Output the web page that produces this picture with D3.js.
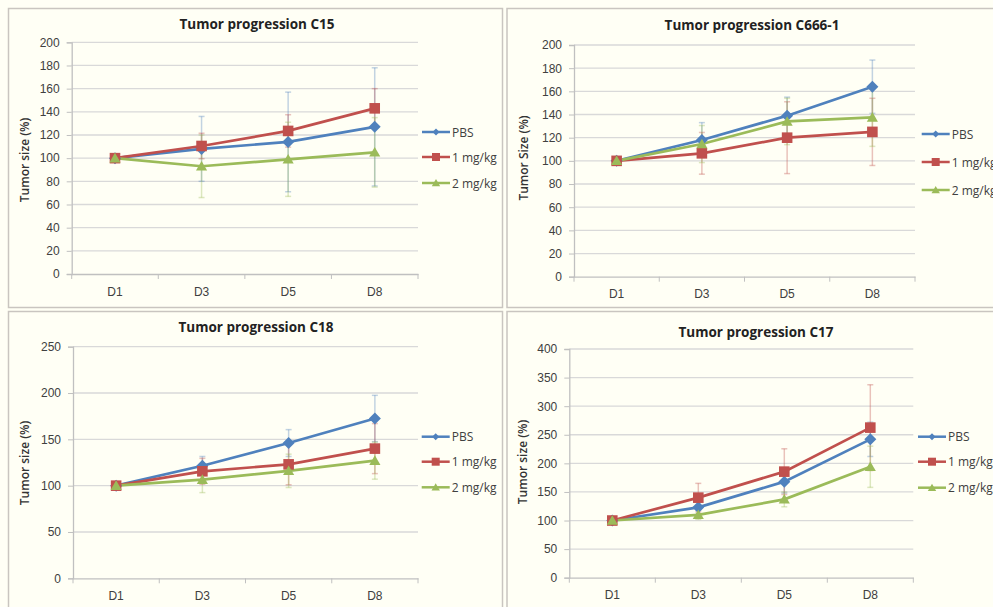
<!DOCTYPE html>
<html>
<head>
<meta charset="utf-8">
<script src="https://cdn.jsdelivr.net/npm/d3@7"></script>
<style>
  html, body { margin: 0; padding: 0; background: #fffff5; }
  svg { display: block; font-family: "Open Sans", "Noto Sans", sans-serif; }
</style>
</head>
<body>
<svg width="993" height="607"></svg>
<script>
const categories = ["D1", "D3", "D5", "D8"];
const seriesNames = ["PBS", "1 mg/kg", "2 mg/kg"];
const seriesColors = ["#4f81bd", "#c0504d", "#9bbb59"];

// mean values per series (PBS, 1 mg/kg, 2 mg/kg) and +/- error
const c15Values = [[100, 108, 114, 127], [100, 110.5, 123.5, 143], [100, 93, 99, 105]];
const c15Errors = [[0, 28, 43, 51], [0, 11, 14, 17], [0, 27, 32, 30]];

const c666Values = [[100, 118, 139, 164], [100, 106.5, 120, 125], [100, 114.5, 134, 137.5]];
const c666Errors = [[0, 15, 16, 23], [0, 18, 31, 29], [0, 16, 20, 25]];

const c18Values = [[100, 121.5, 146, 172.5], [100, 115.5, 123, 140], [100, 106.5, 116, 127]];
const c18Errors = [[0, 10, 14.5, 25], [0, 14, 22, 27], [0, 14, 18, 20]];

const c17Values = [[100, 123, 168, 242], [100, 140, 185.5, 262.5], [100, 110, 137, 194]];
const c17Errors = [[0, 12, 20, 30], [0, 25, 40, 75], [0, 8, 13, 36]];

const panels = [
  { title: "Tumor progression C15", yTitle: "Tumor size (%)", values: c15Values, errors: c15Errors,
    yMax: 200, yStep: 20,
    frame: [8.5, 8.5, 494, 299], plot: [71.7, 418, 42.3, 274],
    titlePos: [257, 24], yTitlePos: [24, 160], legendX: 422, legendY: [132, 157, 183] },
  { title: "Tumor progression C666-1", yTitle: "Tumor Size (%)", values: c666Values, errors: c666Errors,
    yMax: 200, yStep: 20,
    frame: [507, 8.5, 500, 299], plot: [574, 915, 45, 276.7],
    titlePos: [752, 25], yTitlePos: [523, 158], legendX: 921.7, legendY: [134, 162, 190] },
  { title: "Tumor progression C18", yTitle: "Tumor size (%)", values: c18Values, errors: c18Errors,
    yMax: 250, yStep: 50,
    frame: [8.5, 311.5, 494, 310], plot: [73, 418, 346.7, 578.3],
    titlePos: [256, 327], yTitlePos: [24, 463], legendX: 421.7, legendY: [436.7, 461.7, 487.3] },
  { title: "Tumor progression C17", yTitle: "Tumor size (%)", values: c17Values, errors: c17Errors,
    yMax: 400, yStep: 50,
    frame: [507, 311.5, 500, 310], plot: [569.3, 913.3, 349, 577.7],
    titlePos: [756, 332], yTitlePos: [522, 462], legendX: 918, legendY: [436.7, 461.7, 487.7] }
];

const svg = d3.select("svg");

function marker(g, type, size, color) {
    if (type === 0) {
        g.append("path").attr("d", `M0,${-size}L${size},0L0,${size}L${-size},0Z`).attr("fill", color);
    } else if (type === 1) {
        g.append("rect").attr("x", -size).attr("y", -size).attr("width", size * 2).attr("height", size * 2).attr("fill", color);
    } else {
        g.append("path").attr("d", `M0,${-size}L${size * 1.05},${size * 0.8}L${-size * 1.05},${size * 0.8}Z`).attr("fill", color);
    }
}

function drawPanel(p) {
    const [fx, fy, fw, fh] = p.frame;
    svg.append("rect")
        .attr("x", fx).attr("y", fy).attr("width", fw).attr("height", fh)
        .attr("fill", "#fffff5").attr("stroke", "#c9c5c0").attr("stroke-width", 1.5);

    const [left, right, top, bottom] = p.plot;
    const x = d3.scaleBand().domain(categories).range([left, right]);
    const y = d3.scaleLinear().domain([0, p.yMax]).range([bottom, top]);
    const ticks = d3.range(0, p.yMax + 1, p.yStep);

    const g = svg.append("g");

    // gridlines
    g.selectAll(".grid").data(ticks.slice(1)).join("line")
        .attr("x1", left).attr("x2", right)
        .attr("y1", d => y(d)).attr("y2", d => y(d))
        .attr("stroke", "#d9d9d9").attr("stroke-width", 1.3);

    const yAxis = g.append("g").attr("transform", `translate(${left},0)`)
        .call(d3.axisLeft(y).tickValues(ticks).tickSize(5).tickPadding(7));
    yAxis.select(".domain").attr("stroke", "#c0c0c0").attr("stroke-width", 1.3);
    yAxis.selectAll(".tick line").attr("stroke", "#c0c0c0");
    yAxis.selectAll("text").attr("font-size", 12).attr("fill", "#404040");

    const xAxis = g.append("g").attr("transform", `translate(0,${bottom})`)
        .call(d3.axisBottom(x).tickSize(0).tickPadding(13));
    xAxis.select(".domain").attr("stroke", "#c0c0c0").attr("stroke-width", 1.3);
    xAxis.selectAll("text").attr("font-size", 12).attr("fill", "#404040");
    // category boundary ticks
    g.selectAll(".xtick").data(d3.range(categories.length + 1)).join("line")
        .attr("x1", i => left + i * x.step()).attr("x2", i => left + i * x.step())
        .attr("y1", bottom).attr("y2", bottom + 5)
        .attr("stroke", "#c0c0c0");

    const cx = c => x(c) + x.bandwidth() / 2;

    // error bars
    p.values.forEach((vals, s) => {
        const eg = g.append("g").attr("stroke", seriesColors[s]).attr("stroke-opacity", 0.35).attr("stroke-width", 1.5);
        vals.forEach((v, i) => {
            const e = p.errors[s][i];
            if (!e) return;
            const xc = cx(categories[i]);
            eg.append("line").attr("x1", xc).attr("x2", xc).attr("y1", y(v - e)).attr("y2", y(v + e));
            eg.append("line").attr("x1", xc - 3).attr("x2", xc + 3).attr("y1", y(v + e)).attr("y2", y(v + e));
            eg.append("line").attr("x1", xc - 3).attr("x2", xc + 3).attr("y1", y(v - e)).attr("y2", y(v - e));
        });
    });

    // lines and markers
    const line = d3.line().x((d, i) => cx(categories[i])).y(d => y(d));
    p.values.forEach((vals, s) => {
        g.append("path").datum(vals)
            .attr("d", line).attr("fill", "none")
            .attr("stroke", seriesColors[s]).attr("stroke-width", 2.7);
    });
    p.values.forEach((vals, s) => {
        vals.forEach((v, i) => {
            const mg = g.append("g").attr("transform", `translate(${cx(categories[i])},${y(v)})`);
            marker(mg, s, s === 0 ? 6 : 5.3, seriesColors[s]);
        });
    });

    // titles
    svg.append("text")
        .attr("x", p.titlePos[0]).attr("y", p.titlePos[1])
        .attr("text-anchor", "middle").attr("dominant-baseline", "central")
        .attr("font-size", 13.5).attr("font-weight", "bold").attr("fill", "#222")
        .text(p.title);
    svg.append("text")
        .attr("transform", `translate(${p.yTitlePos[0]},${p.yTitlePos[1]}) rotate(-90)`)
        .attr("text-anchor", "middle").attr("dominant-baseline", "central")
        .attr("font-size", 12).attr("font-weight", 600).attr("fill", "#333")
        .text(p.yTitle);

    // legend
    seriesNames.forEach((name, s) => {
        const ly = p.legendY[s];
        const lg = svg.append("g");
        lg.append("line").attr("x1", p.legendX).attr("x2", p.legendX + 28)
            .attr("y1", ly).attr("y2", ly)
            .attr("stroke", seriesColors[s]).attr("stroke-width", 2.5);
        const mg = lg.append("g").attr("transform", `translate(${p.legendX + 14},${ly})`);
        marker(mg, s, s === 0 ? 3.5 : 4, seriesColors[s]);
        lg.append("text").attr("x", p.legendX + 30).attr("y", ly)
            .attr("dominant-baseline", "central")
            .attr("font-size", 12).attr("fill", "#404040")
            .text(name);
    });
}

panels.forEach(drawPanel);
</script>
</body>
</html>
